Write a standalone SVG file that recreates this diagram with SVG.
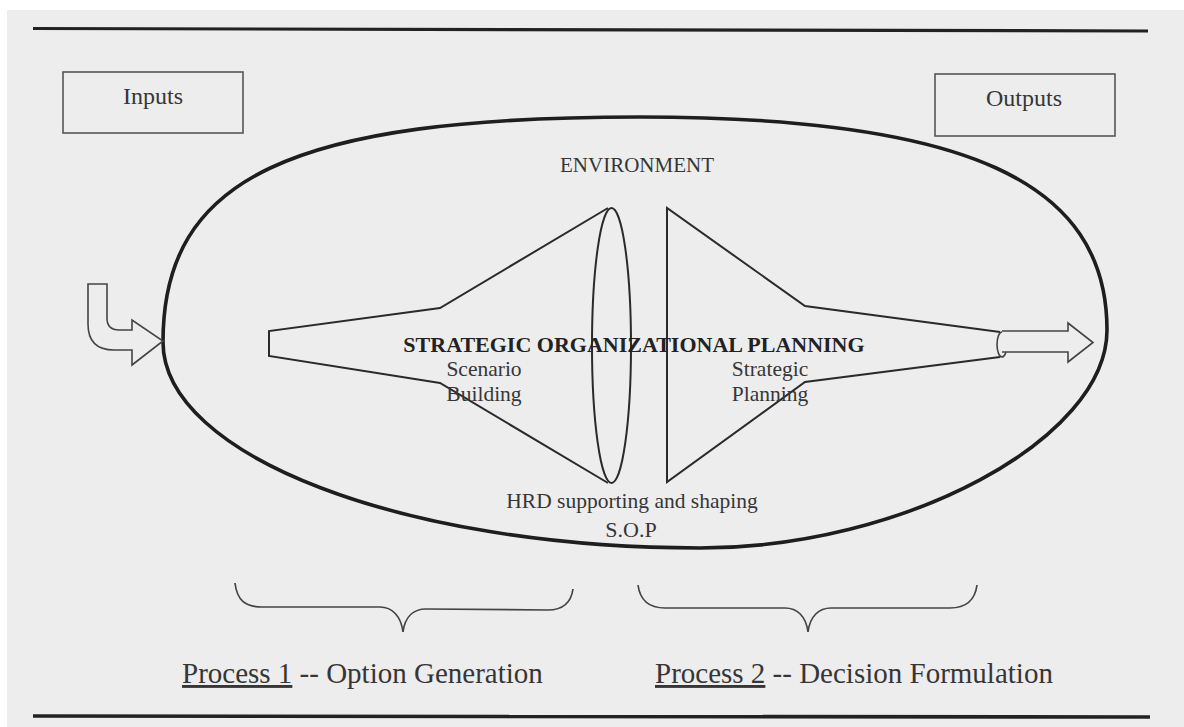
<svg xmlns="http://www.w3.org/2000/svg" width="1184" height="727" viewBox="0 0 1184 727">
  <style>
    .txt { font-family: "Liberation Serif", "Times New Roman", serif; fill: #363636; }
    .box { fill: none; stroke: #555; stroke-width: 1.6; }
    .rule { stroke: #222; stroke-width: 3.2; stroke-linecap: butt; }
    .outline { fill: none; stroke: #2a2a2a; stroke-width: 2; stroke-linejoin: miter; }
    .thin { fill: none; stroke: #444; stroke-width: 1.6; stroke-linejoin: miter; }
    .brace { fill: none; stroke: #444; stroke-width: 1.7; }
  </style>

  <!-- paper -->
  <rect x="0" y="0" width="1184" height="727" fill="#ffffff"/>
  <rect x="7" y="10" width="1177" height="717" fill="#ededed"/>

  <!-- page rules -->
  <g id="rules">
    <line class="rule" x1="33" y1="28.5" x2="1148" y2="31"/>
    <line class="rule" x1="33" y1="716" x2="1150" y2="717" style="stroke-width:3.6"/>
  </g>

  <!-- inputs -->
  <g id="node-inputs">
    <rect class="box" x="63" y="72" width="180" height="61"/>
    <text class="txt" x="153" y="104" font-size="24" text-anchor="middle">Inputs</text>
  </g>

  <!-- outputs -->
  <g id="node-outputs">
    <rect class="box" x="935" y="74" width="180" height="62"/>
    <text class="txt" x="1024" y="106" font-size="24" text-anchor="middle">Outputs</text>
  </g>

  <!-- environment boundary -->
  <g id="node-environment">
    <path fill="none" stroke="#1e1e1e" stroke-width="3.6"
          d="M163,342 C163,178 290,117 640,117 C967,117 1107,182 1107,330 C1107,439 904,548 700,548 C404,548 163,456 163,342 Z"/>
    <text class="txt" x="637" y="172" font-size="21" text-anchor="middle">ENVIRONMENT</text>
  </g>

  <!-- process 1: scenario building funnel and lens -->
  <g id="node-scenario-building">
    <path class="outline" d="M608,208 L440,308 L269,331 L269,356 L440,383 L608,483"/>
    <ellipse class="outline" cx="611.5" cy="345.5" rx="19.5" ry="137.5"/>
    <text class="txt" x="484" y="376" font-size="21.5" text-anchor="middle">Scenario</text>
    <text class="txt" x="484" y="401" font-size="21.5" text-anchor="middle">Building</text>
  </g>

  <!-- process 2: strategic planning funnel -->
  <g id="node-strategic-planning">
    <path class="outline" d="M1000,332 L805,306 L667,208 L667,482 L805,382 L1000,357"/>
    <ellipse class="thin" cx="1002" cy="344.5" rx="5" ry="12.5"/>
    <text class="txt" x="770" y="376" font-size="21.5" text-anchor="middle">Strategic</text>
    <text class="txt" x="770" y="401" font-size="21.5" text-anchor="middle">Planning</text>
  </g>

  <!-- central title and support label -->
  <g id="node-sop">
    <text class="txt" x="634" y="352" font-size="22" font-weight="bold" text-anchor="middle" style="fill:#222">STRATEGIC ORGANIZATIONAL PLANNING</text>
    <text class="txt" x="632" y="508" font-size="21.5" text-anchor="middle">HRD supporting and shaping</text>
    <text class="txt" x="631" y="537" font-size="22" text-anchor="middle">S.O.P</text>
  </g>

  <!-- flow arrows -->
  <g id="connectors">
    <path class="thin" style="fill:#ededed"
          d="M88,284 L107,284 L107,318 Q107,330 119,330 L132,330 L132,320 L163,341 L132,365 L132,350 L114,350 Q88,350 88,324 Z"/>
    <path class="thin" style="fill:#ededed"
          d="M1002,331 L1068,331 L1068,323 L1093,342.5 L1068,362 L1068,352 L1002,352"/>
  </g>

  <!-- process groupings -->
  <g id="node-process-1">
    <path class="brace" d="M235,583 C237,600 245,607 262,607 L380,607 C392,607 401,616 403,632 C405,616 414,609 426,609 L548,610 C562,610 571,603 573,589"/>
    <text class="txt" x="182" y="683" font-size="29"><tspan text-decoration="underline">Process 1</tspan> -- Option Generation</text>
  </g>

  <g id="node-process-2">
    <path class="brace" d="M638,585 C640,600 648,608 665,608 L785,608 C797,608 806,616 808,632 C810,616 819,608 831,608 L950,608 C966,608 975,600 977,585"/>
    <text class="txt" x="655" y="683" font-size="29"><tspan text-decoration="underline">Process 2</tspan> -- Decision Formulation</text>
  </g>
</svg>
